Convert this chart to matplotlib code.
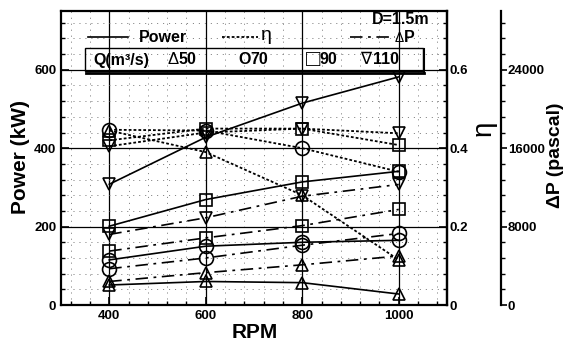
import numpy as np
import matplotlib.pyplot as plt
from matplotlib.ticker import MultipleLocator
from matplotlib.lines import Line2D
from matplotlib.patches import Rectangle

plt.rcParams['font.family'] = ['Liberation Sans', 'DejaVu Sans']
plt.rcParams['font.weight'] = 'bold'
plt.rcParams['lines.scale_dashes'] = False

# ------------------ data ------------------
rpm = [400, 600, 800, 1000]
flow_symbols = ["\u0394", "O", "\u25a1", "\u2207"]
flow_values = ["50", "70", "90", "110"]
flow_markers = ['^', 'o', 's', 'v']

# shaft power (kW)
power_50 = [51, 60, 57, 28]
power_70 = [115, 150, 160, 165]
power_90 = [201, 269, 314, 341]
power_110 = [308, 428, 515, 582]

# efficiency
eta_50 = [0.445, 0.39, 0.28, 0.115]
eta_70 = [0.447, 0.445, 0.40, 0.34]
eta_90 = [0.42, 0.45, 0.45, 0.408]
eta_110 = [0.405, 0.44, 0.45, 0.438]

# pressure rise (pascal)
dp_50 = [2400, 3300, 4100, 5000]
dp_70 = [3700, 4800, 6100, 7300]
dp_90 = [5500, 6850, 8100, 9750]
dp_110 = [7200, 8900, 11100, 12300]

power_sets = [power_50, power_70, power_90, power_110]
eta_sets = [eta_50, eta_70, eta_90, eta_110]
dp_sets = [dp_50, dp_70, dp_90, dp_110]

W, H = 568, 345


def fx(px):
    return px / W


def fy(py):
    return 1 - py / H


fig = plt.figure(figsize=(W / 100, H / 100), dpi=100)
ax = fig.add_axes([fx(61), fy(305), (447 - 61) / W, (305 - 11) / H])
ax_eta = ax.twinx()
ax_dp = ax.twinx()
ax_dp.spines['right'].set_position(('axes', (501 - 61) / (447 - 61)))

ax.set_xlim(300, 1100)
ax.set_ylim(0, 750)
ax_eta.set_ylim(0, 0.75)
ax_dp.set_ylim(0, 30000)

# grids
ax.xaxis.set_major_locator(MultipleLocator(200))
ax.xaxis.set_minor_locator(MultipleLocator(40))
ax.yaxis.set_major_locator(MultipleLocator(200))
ax.yaxis.set_minor_locator(MultipleLocator(40))
ax.grid(which='major', color='black', lw=0.9, ls='-')
ax.grid(which='minor', color='0.45', lw=0.6, dashes=(0.8, 3.5))
ax.set_axisbelow(True)

ax.tick_params(which='both', direction='in', labelsize=9.5, top=False, right=False)
ax.tick_params(which='major', length=6, width=1.2)
ax.tick_params(which='minor', length=3, width=1)
for lab in ax.get_xticklabels() + ax.get_yticklabels():
    lab.set_fontweight('bold')
for s in ax.spines.values():
    s.set_linewidth(1.6)

ax_eta.yaxis.set_minor_locator(MultipleLocator(0.04))
ax_eta.set_yticks([0, 0.2, 0.4, 0.6])
ax_eta.set_yticklabels(['0', '0.2', '0.4', '0.6'])
ax_eta.tick_params(which='both', direction='in', labelsize=9.5, pad=2)
ax_eta.tick_params(which='major', length=6, width=1.2)
ax_eta.tick_params(which='minor', length=3, width=1)
ax_eta.spines['right'].set_linewidth(1.6)

ax_dp.yaxis.set_major_locator(MultipleLocator(8000))
ax_dp.yaxis.set_minor_locator(MultipleLocator(1600))
ax_dp.tick_params(which='both', direction='out', labelsize=9.5, pad=1)
ax_dp.tick_params(which='major', length=4, width=1.2)
ax_dp.tick_params(which='minor', length=3, width=1)
ax_dp.spines['right'].set_linewidth(1.6)
for s in ['top', 'left', 'bottom']:
    ax_dp.spines[s].set_visible(False)
    ax_eta.spines[s].set_visible(False)

# ------------------ curves ------------------
for mk, pw, et, dp in zip(flow_markers, power_sets, eta_sets, dp_sets):
    ms = 10 if mk == 'o' else 8.5
    ax.plot(rpm, pw, color='black', lw=1.2, marker=mk, ms=ms,
            mfc='none', mec='black', mew=1.2)
    ax_eta.plot(rpm, et, color='black', lw=1.3, dashes=(2, 1.5), marker=mk, ms=ms,
                mfc='none', mec='black', mew=1.2)
    ax_dp.plot(rpm, dp, color='black', lw=1.2, dashes=(9, 4, 2, 4), marker=mk, ms=ms,
               mfc='none', mec='black', mew=1.2)

# ------------------ axis titles ------------------
fig.text(fx(21), fy(157), "Power (kW)", rotation=90, fontsize=15,
         fontweight='bold', ha='center', va='center')
fig.text(fx(255), fy(332), "RPM", fontsize=15, fontweight='bold',
         ha='center', va='center')
fig.text(fx(484), fy(128), "\u03b7", rotation=90, fontsize=20,
         fontweight='normal', ha='center', va='center')
fig.text(fx(556), fy(155), "\u0394P (pascal)", rotation=90, fontsize=14,
         fontweight='bold', ha='center', va='center')

# ------------------ legend drawn by hand ------------------
fig.add_artist(Line2D([fx(88), fx(128)], [fy(37), fy(37)], color='black', lw=1.2))
fig.text(fx(139), fy(38), "Power", fontsize=11.5, fontweight='bold', va='center')
fig.add_artist(Line2D([fx(222), fx(258)], [fy(37), fy(37)], color='black', lw=1.3,
                      dashes=(2, 1.5)))
fig.text(fx(261), fy(36), "\u03b7", fontsize=14, fontweight='normal', va='center')
fig.add_artist(Line2D([fx(350), fx(395)], [fy(37), fy(37)], color='black', lw=1.2,
                      dashes=(9, 4, 2, 4)))
fig.text(fx(395), fy(38), "\u0394", fontsize=10, fontweight='normal', va='center')
fig.text(fx(404), fy(37), "P", fontsize=11.5, fontweight='bold', va='center')
fig.text(fx(372), fy(20), "D=1.5m", fontsize=11.5, fontweight='bold', va='center')

box = Rectangle((fx(85), fy(71)), fx(423) - fx(85), fy(48) - fy(71),
                transform=fig.transFigure, fill=False, ec='black', lw=1.0)
fig.add_artist(box)
fig.add_artist(Line2D([fx(86), fx(424)], [fy(72.5), fy(72.5)], color='black', lw=2))
fig.add_artist(Line2D([fx(424), fx(424)], [fy(72.5), fy(49)], color='black', lw=1.5))
fig.text(fx(93), fy(60), "Q(m\u00b3/s)", fontsize=11.5, fontweight='bold', va='center')
symbol_x = [168, 238, 306, 360]
symbol_size = [12, 11.5, 17, 12]
value_x = [178, 250, 320, 373]
for sx, ss, vx, sym, val in zip(symbol_x, symbol_size, value_x, flow_symbols, flow_values):
    fig.text(fx(sx), fy(60), sym, fontsize=ss, fontweight='normal' if sym != "O" else 'bold',
             va='center')
    fig.text(fx(vx), fy(60), val, fontsize=11.5, fontweight='bold', va='center')

fig.savefig("out.png", dpi=100)
